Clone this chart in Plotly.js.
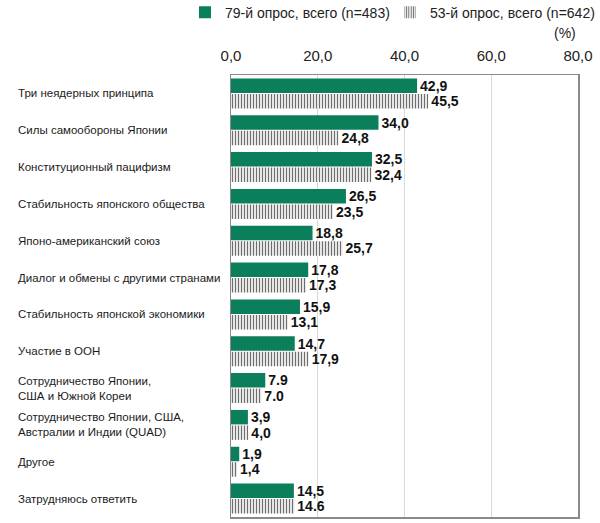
<!DOCTYPE html>
<html><head><meta charset="utf-8">
<script src="https://cdn.plot.ly/plotly-3.0.1.min.js"></script>
<style>html,body{margin:0;padding:0;background:#fff;}#chart{width:600px;height:523px;}</style>
</head><body><div id="chart"></div>
<script>
const categories = [
  'Три неядерных принципа',
  'Силы самообороны Японии',
  'Конституционный пацифизм',
  'Стабильность японского общества',
  'Японо-американский союз',
  'Диалог и обмены с другими странами',
  'Стабильность японской экономики',
  'Участие в ООН',
  'Сотрудничество Японии,<br>США и Южной Кореи',
  'Сотрудничество Японии, США,<br>Австралии и Индии (QUAD)',
  'Другое',
  'Затрудняюсь ответить'
];
const seriesNames = ['79-й опрос, всего (n=483)', '53-й опрос, всего (n=642)'];
const values79 = [42.9, 34.0, 32.5, 26.5, 18.8, 17.8, 15.9, 14.7, 7.9, 3.9, 1.9, 14.5];
const values53 = [45.5, 24.8, 32.4, 23.5, 25.7, 17.3, 13.1, 17.9, 7.0, 4.0, 1.4, 14.6];
const labels79 = ['42,9','34,0','32,5','26,5','18,8','17,8','15,9','14,7','7.9','3,9','1,9','14,5'];
const labels53 = ['45,5','24,8','32,4','23,5','25,7','17,3','13,1','17,9','7.0','4,0','1,4','14.6'];
const tickVals = [0, 20, 40, 60, 80];
const tickText = ['0,0', '20,0', '40,0', '60,0', '80,0'];

const FONT = 'Liberation Sans, Arial, sans-serif';
const labelFont = {family: FONT, size: 14, color: '#111', weight: 'bold'};

const traces = [
  {
    type: 'bar', orientation: 'h', name: seriesNames[0],
    y: categories, x: values79, text: labels79,
    textposition: 'outside', constraintext: 'none', cliponaxis: false,
    textfont: labelFont,
    marker: {color: '#0b7f5c', line: {width: 0}},
    hoverinfo: 'skip'
  },
  {
    type: 'bar', orientation: 'h', name: seriesNames[1],
    y: categories, x: values53, text: labels53,
    textposition: 'outside', constraintext: 'none', cliponaxis: false,
    textfont: labelFont,
    marker: {color: '#ffffff', line: {width: 0},
      pattern: {shape: '|', fgcolor: '#6e6e6e', bgcolor: '#ffffff', size: 3, solidity: 0.45}},
    hoverinfo: 'skip'
  }
];

const annotations = categories.map(c => ({
  xref: 'paper', yref: 'y', x: -0.62, y: c, xanchor: 'left', yanchor: 'middle',
  text: c, showarrow: false, align: 'left',
  font: {family: FONT, size: 11.5, color: '#1a1a1a'}
}));
annotations.push({
  xref: 'paper', yref: 'paper', x: 1.0, y: 1.095, xanchor: 'right', yanchor: 'middle',
  text: '(%)', showarrow: false, font: {family: FONT, size: 14, color: '#222'}
});

const layout = {
  width: 600, height: 523,
  margin: {l: 231, r: 22, t: 75, b: 6, autoexpand: false},
  paper_bgcolor: '#fff', plot_bgcolor: '#fff',
  separators: ', ',
  barmode: 'group', bargap: 0.16, bargroupgap: 0.065,
  showlegend: true,
  legend: {orientation: 'h', x: -0.1326, xanchor: 'left', xref: 'paper',
    y: 1.177, yref: 'paper', yanchor: 'top',
    font: {family: FONT, size: 14, color: '#222'},
    traceorder: 'normal', entrywidth: 160, entrywidthmode: 'pixels'},
  xaxis: {
    side: 'top', range: [0, 80], tickvals: tickVals, ticktext: tickText,
    showgrid: true, gridcolor: '#d9d9d9', gridwidth: 1,
    showline: true, mirror: true, linecolor: '#8a8a8a', linewidth: 1.5,
    zeroline: false, ticks: '', fixedrange: true, ticklabelstandoff: 7,
    tickfont: {family: FONT, size: 15, color: '#222'}
  },
  yaxis: {
    autorange: 'reversed', showticklabels: false, ticks: '',
    showline: true, mirror: true, linecolor: '#8a8a8a', linewidth: 1.5,
    showgrid: false, zeroline: false, fixedrange: true
  },
  annotations: annotations
};

Plotly.newPlot('chart', traces, layout, {displayModeBar: false, staticPlot: true});
</script></body></html>
